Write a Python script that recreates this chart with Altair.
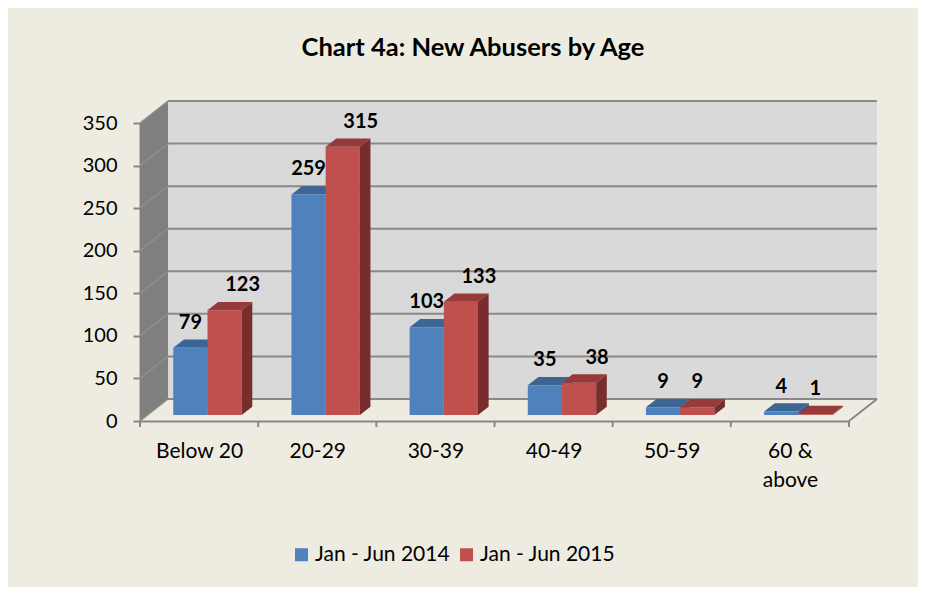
import json
import altair as alt
import pandas as pd

# ---------------- data ----------------
categories = ["Below 20", "20-29", "30-39", "40-49", "50-59", "60 & above"]
series_names = ["Jan - Jun 2014", "Jan - Jun 2015"]
values_2014 = [79, 259, 103, 35, 9, 4]
values_2015 = [123, 315, 133, 38, 9, 1]
y_ticks = [0, 50, 100, 150, 200, 250, 300, 350]

# ---------------- style ----------------
FRONT = ["#4F81BD", "#C0504D"]
TOP = ["#3D6593", "#963B39"]
SIDE = ["#355987", "#772D2B"]
BG = "#EEECE1"
WALL = "#D9D9D9"
SIDEWALL = "#7F7F7F"
GRID = "#898989"
AXISC = "#878787"
FONT = "Lato"

NCAT = len(categories)
YMAX = max(y_ticks)
PLOT_W, PLOT_H = 740, 321
AXIS_PX, Y_PX = 709, 298
PX_X = AXIS_PX / NCAT
PX_Y = Y_PX / YMAX


def ux(px):
    return px / PX_X


def uy(px):
    return px / PX_Y


WALL_DX, WALL_DY = ux(28), uy(22)
BAR_BASE = uy(6)
BAR_DX, BAR_DY = ux(10.6), uy(8.3)
BAR_LEFT = ux(-25.8)
BAR_W = ux(34.2)
LABEL_UP = uy(25)
RED_SHIFT = ux(18)

# ---------------- geometry tables ----------------
bars, sides, tops, labels = [], [], [], []
for i, cat in enumerate(categories):
    c = i + 0.5
    for s, vals in enumerate([values_2014, values_2015]):
        v = vals[i]
        left = c + BAR_LEFT + s * BAR_W
        right = left + BAR_W
        y0, y1 = BAR_BASE, BAR_BASE + v
        bid = f"{i}-{s}"
        bars.append(dict(series=series_names[s], s=s, x=left, x2=right, y=y0, y2=y1))
        sides += [dict(s=s, id=bid, x=right, y=y0, y2=y1),
                  dict(s=s, id=bid, x=right + BAR_DX, y=y0 + BAR_DY, y2=y1 + BAR_DY)]
        tops += [dict(s=s, id=bid, y=y1, x=left, x2=right),
                 dict(s=s, id=bid, y=y1 + BAR_DY, x=left + BAR_DX, x2=right + BAR_DX)]
        lx = (left + right) / 2 + (RED_SHIFT if (s == 1 and v >= 20) else 0)
        labels.append(dict(x=lx, y=y1 + LABEL_UP, text=str(v)))

bars_df = pd.DataFrame(bars)
sides_df = pd.DataFrame(sides)
tops_df = pd.DataFrame(tops)
labels_df = pd.DataFrame(labels)

wall_df = pd.DataFrame([dict(x=WALL_DX, x2=NCAT + WALL_DX, y=WALL_DY, y2=YMAX + WALL_DY)])
grid_df = pd.DataFrame([dict(x=WALL_DX, x2=NCAT + WALL_DX, y=t + WALL_DY) for t in y_ticks])
sidewall_df = pd.DataFrame([dict(x=0, y=0, y2=YMAX),
                            dict(x=WALL_DX, y=WALL_DY, y2=YMAX + WALL_DY)])
sidelines_df = pd.DataFrame([dict(x=0, x2=WALL_DX, y=t, y2=t + WALL_DY) for t in y_ticks])
floor_edge_df = pd.DataFrame([dict(x=NCAT, x2=NCAT + WALL_DX, y=0, y2=WALL_DY)])
xticks_df = pd.DataFrame([dict(x=i, y=0, y2=uy(-6)) for i in range(NCAT + 1)])

# ---------------- scales / axes ----------------
display_labels = [c if len(c) <= 8 else c.rsplit(" ", 1) for c in categories]
label_expr = json.dumps(display_labels) + "[floor(datum.value)]"

xscale = alt.Scale(domain=[0, NCAT], range=[0, AXIS_PX], nice=False, zero=False)
yscale = alt.Scale(domain=[0, YMAX], range=[PLOT_H, PLOT_H - Y_PX], nice=False, zero=False)

xaxis = alt.Axis(values=[i + 0.5 for i in range(NCAT)], labelExpr=label_expr, ticks=False,
                 grid=False, title=None, domainColor=AXISC, domainWidth=2,
                 labelFontSize=21, labelFont=FONT, labelColor="black", labelPadding=19,
                 labelOverlap=False, labelFlush=False, labelLineHeight=29)
yaxis = alt.Axis(values=y_ticks, grid=False, title=None, domainColor=AXISC, domainWidth=2,
                 tickColor=AXISC, tickWidth=2, tickSize=7, labelFontSize=20, labelFont=FONT,
                 labelColor="black", labelPadding=16)


def X(f="x"):
    return alt.X(f"{f}:Q", scale=xscale, axis=xaxis)


def Y(f="y"):
    return alt.Y(f"{f}:Q", scale=yscale, axis=yaxis, stack=False)


wall = alt.Chart(wall_df).mark_rect(color=WALL).encode(x=X(), x2="x2", y=Y(), y2="y2")
grid = alt.Chart(grid_df).mark_rule(color=GRID, strokeWidth=2).encode(x=X(), x2="x2", y=Y())
sidewall = alt.Chart(sidewall_df).mark_area(color=SIDEWALL, opacity=1).encode(x=X(), y=Y(), y2="y2")
sidelines = alt.Chart(sidelines_df).mark_rule(color="#8F8F8F", strokeWidth=1.5).encode(
    x=X(), x2="x2", y=Y(), y2="y2")
floor_edge = alt.Chart(floor_edge_df).mark_rule(color=AXISC, strokeWidth=2).encode(
    x=X(), x2="x2", y=Y(), y2="y2")
xticks = alt.Chart(xticks_df).mark_rule(color=AXISC, strokeWidth=2).encode(x=X(), y=Y(), y2="y2")


def side_layer(s):
    return alt.Chart(sides_df[sides_df.s == s]).mark_area(color=SIDE[s], opacity=1).encode(
        x=X(), y=Y(), y2="y2", detail="id:N")


def top_layer(s):
    return alt.Chart(tops_df[tops_df.s == s]).mark_area(
        color=TOP[s], opacity=1, orient="horizontal").encode(
        y=Y(), x=X(), x2="x2", detail="id:N")


front = alt.Chart(bars_df).mark_rect().encode(
    x=X(), x2="x2", y=Y(), y2="y2",
    color=alt.Color("series:N",
                    scale=alt.Scale(domain=series_names, range=FRONT),
                    legend=alt.Legend(title=None, orient="none", legendX=151, legendY=444,
                                      direction="horizontal", symbolType="square",
                                      symbolSize=169, symbolStrokeWidth=0,
                                      labelFontSize=21, labelFont=FONT, labelColor="black",
                                      columnPadding=5, labelOffset=3, padding=0,
                                      labelLimit=300)),
)

text = alt.Chart(labels_df).mark_text(font=FONT, fontSize=20, fontWeight="bold", color="black",
                                      baseline="middle", align="center").encode(
    x=X(), y=Y(), text="text:N")

chart = alt.layer(
    wall, grid, sidewall, sidelines, floor_edge, xticks,
    side_layer(0), top_layer(0), front, top_layer(1), side_layer(1),
    text,
).properties(
    width=PLOT_W, height=PLOT_H,
    autosize=alt.AutoSizeParams(type="none"),
    padding={"left": 132, "top": 92, "right": 38, "bottom": 166},
    title=alt.TitleParams("Chart 4a: New Abusers by Age", font=FONT, fontSize=25.5,
                          fontWeight="bold", color="black", anchor="middle", frame="group",
                          dx=-37, offset=39),
).configure(background=BG).configure_view(strokeWidth=0)

chart.save("out.html", embed_options={"renderer": "svg", "actions": False})
